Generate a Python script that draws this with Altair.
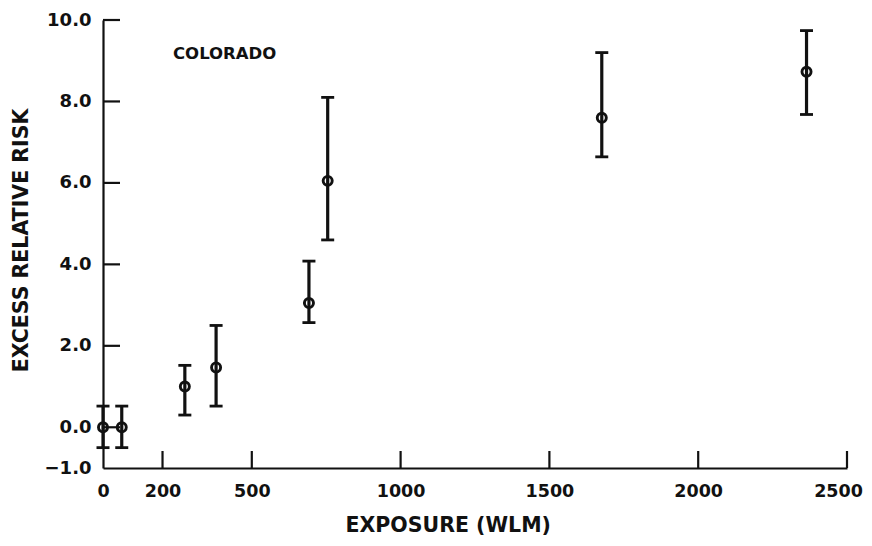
import altair as alt
import pandas as pd

# ---- data ----
exposure = [0, 63, 275, 380, 692, 755, 1676, 2364]
risk = [0.0, 0.0, 1.0, 1.47, 3.05, 6.05, 7.6, 8.73]
lower = [-0.5, -0.5, 0.3, 0.52, 2.57, 4.6, 6.64, 7.68]
upper = [0.52, 0.52, 1.52, 2.5, 4.08, 8.1, 9.2, 9.74]
x_ticks = [0, 200, 500, 1000, 1500, 2000, 2500]
y_ticks = [-1, 0, 2, 4, 6, 8, 10]
annotation = ["COLORADO"]
x_title = "EXPOSURE (WLM)"
y_title = "EXCESS RELATIVE RISK"

W, H = 744, 448
INK = "#111111"
FONT = "DejaVu Sans"

df = pd.DataFrame({"exposure": exposure, "risk": risk, "lower": lower, "upper": upper})
caps = pd.DataFrame({"exposure": exposure + exposure, "risk": lower + upper})
xt = pd.DataFrame({"exposure": x_ticks[1:]})
yt = pd.DataFrame({"risk": y_ticks[1:]})
ann = pd.DataFrame({"label": annotation})

xs = alt.Scale(domain=[0, 2500], nice=False, zero=False)
ys = alt.Scale(domain=[-1, 10], nice=False, zero=False)

x_axis = alt.Axis(values=x_ticks, ticks=False, tickSize=0, grid=False, labelPadding=14,
                  format="d", labelFontSize=17.5,
                  labelOffset={"condition": {"test": "datum.value == 2500", "value": -9}, "value": 0},
                  title=x_title, titleX=242, titleY=63, titleAlign="left",
                  titleBaseline="alphabetic", labelFlush=False)
y_axis = alt.Axis(values=y_ticks, ticks=False, tickSize=0, grid=False, labelPadding=12,
                  format=".1f", title=y_title, titleAngle=270, titleX=-76, titleY=220,
                  titleAlign="center", titleBaseline="alphabetic", labelFlush=False)

X = alt.X("exposure:Q", scale=xs, axis=x_axis)
Y = alt.Y("risk:Q", scale=ys, axis=y_axis)

bars = alt.Chart(df).mark_rule(color=INK, strokeWidth=3.2).encode(
    x=X, y=alt.Y("lower:Q", scale=ys, axis=y_axis), y2="upper:Q")

cap_marks = alt.Chart(caps).mark_tick(color=INK, orient="horizontal", size=13,
                                      thickness=2.8, opacity=1).encode(x=X, y=Y)

points = alt.Chart(df).mark_point(shape="circle", filled=False, size=82, strokeWidth=2.9,
                                  color=INK, opacity=1).encode(x=X, y=Y)

xtick_marks = alt.Chart(xt).mark_rule(color=INK, strokeWidth=2.2).encode(
    x=X, y=alt.value(H), y2=alt.value(H - 17))
ytick_marks = alt.Chart(yt).mark_rule(color=INK, strokeWidth=2.2).encode(
    y=Y, x=alt.value(0), x2=alt.value(17))

label = alt.Chart(ann).mark_text(align="left", baseline="alphabetic", font=FONT,
                                 fontWeight="bold", fontSize=16.5, color=INK).encode(
    text="label:N", x=alt.value(70), y=alt.value(39))

chart = alt.layer(bars, cap_marks, points, xtick_marks, ytick_marks, label).properties(
    width=W, height=H,
    autosize=alt.AutoSizeParams(type="none"),
    padding={"left": 95, "top": 12, "right": 17, "bottom": 68},
).configure_axis(
    labelFont=FONT, labelFontWeight="bold", labelFontSize=18, labelColor=INK,
    titleFont=FONT, titleFontWeight="bold", titleFontSize=20.5, titleColor=INK,
    domainColor=INK, domainWidth=2.2,
).configure_view(stroke=None)

chart.save("out.html", embed_options={"renderer": "svg", "actions": False})
